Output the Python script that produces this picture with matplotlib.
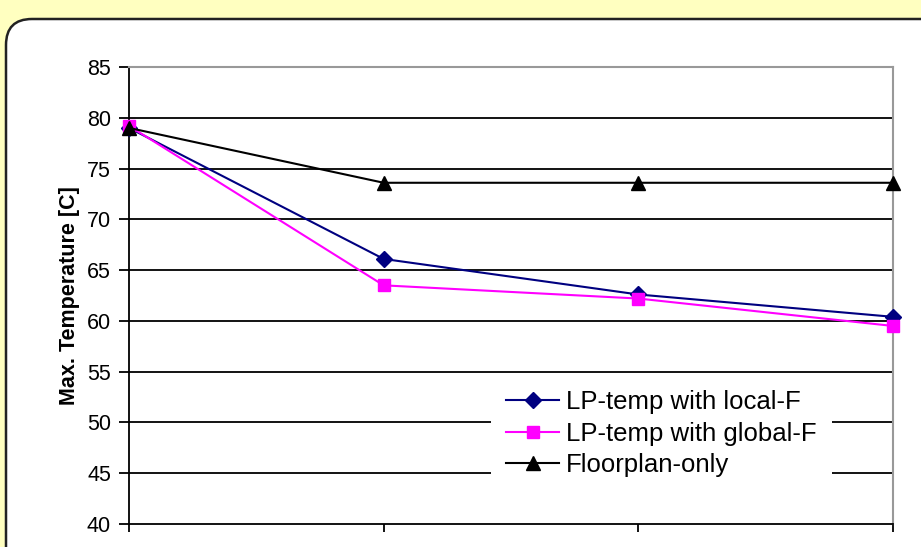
import matplotlib
matplotlib.use('Agg')
import matplotlib.pyplot as plt
from matplotlib.patches import FancyBboxPatch

plt.rcParams['font.family'] = ['Liberation Sans', 'DejaVu Sans']

# max temperature per step
local_f = [79.0, 66.1, 62.6, 60.4]
global_f = [79.2, 63.5, 62.2, 59.5]
floorplan = [79.0, 73.6, 73.6, 73.6]
labels = ['LP-temp with local-F', 'LP-temp with global-F', 'Floorplan-only']
y_ticks = [40, 45, 50, 55, 60, 65, 70, 75, 80, 85]

fig = plt.figure(figsize=(9.21, 5.47), dpi=100)
fig.patch.set_facecolor('#FFFFC0')

# white rounded panel behind the plot
bg = fig.add_axes([0, 0, 1, 1], zorder=0)
bg.set_xlim(0, 921)
bg.set_ylim(547, 0)
bg.axis('off')
bg.add_patch(FancyBboxPatch((6, 19), 1000, 1000,
                            boxstyle='round,pad=0,rounding_size=26',
                            facecolor='white', edgecolor='#222222', lw=1.8))

ax = fig.add_axes([129 / 921, 1 - 524 / 547, (893 - 129) / 921, (524 - 67) / 547], zorder=1)
ax.set_facecolor('white')

x = list(range(len(local_f)))
ax.plot(x, local_f, color='#000080', lw=1.5, marker='D', ms=8.5, label=labels[0], zorder=3)
ax.plot(x, global_f, color='#FF00FF', lw=1.5, marker='s', ms=9, label=labels[1], zorder=3)
ax.plot(x, floorplan, color='black', lw=1.5, marker='^', ms=10.5, label=labels[2], zorder=4)
for l in ax.lines:
    l.set_clip_on(False)

ax.set_xlim(0, 3)
ax.set_ylim(40, 85)
ax.set_yticks(y_ticks)
ax.set_xticks(x)
ax.set_xticklabels([])
ax.tick_params(axis='y', direction='out', length=7, width=1.3, pad=6, labelsize=15.5)
ax.tick_params(axis='x', direction='out', length=6, width=1.3)

ax.grid(axis='y', color='black', lw=1.3)
ax.set_axisbelow(True)
gl = ax.yaxis.get_gridlines()
gl[0].set_visible(False)
gl[-1].set_visible(False)

for s in ['top', 'right']:
    ax.spines[s].set_color('#999999')
    ax.spines[s].set_linewidth(1.5)
for s in ['left', 'bottom']:
    ax.spines[s].set_color('black')
    ax.spines[s].set_linewidth(1.3)

ax.set_ylabel('Max. Temperature [C]', fontsize=15.5, fontweight='bold', labelpad=5)

leg = ax.legend(loc='upper left', bbox_to_anchor=((491 - 129) / 764, (524 - 375) / 457),
                fontsize=18.5, frameon=True, fancybox=False, edgecolor='none',
                facecolor='white', framealpha=1, handlelength=2.05, handletextpad=0.28,
                labelspacing=0.28, borderpad=0.6, borderaxespad=0)
leg.set_zorder(5)

fig.savefig('out.png', dpi=100, facecolor=fig.get_facecolor())
